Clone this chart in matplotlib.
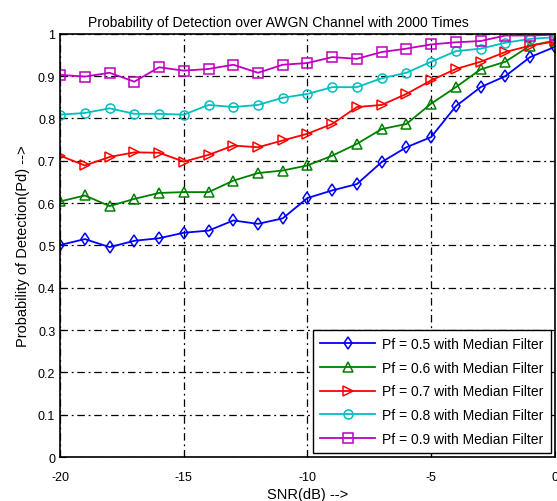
import matplotlib
matplotlib.use("Agg")
import matplotlib.pyplot as plt
import numpy as np

plt.rcParams['font.family'] = ['Liberation Sans', 'DejaVu Sans']
plt.rcParams['axes.unicode_minus'] = False

snr = list(range(-20, 1))
pd_05 = [0.501, 0.515, 0.496, 0.511, 0.517, 0.530, 0.535, 0.559, 0.551, 0.564, 0.612,
         0.630, 0.645, 0.697, 0.732, 0.756, 0.829, 0.874, 0.900, 0.945, 0.969]
pd_06 = [0.604, 0.618, 0.593, 0.610, 0.624, 0.626, 0.626, 0.653, 0.671, 0.677, 0.689,
         0.712, 0.740, 0.775, 0.787, 0.835, 0.874, 0.916, 0.934, 0.972, 0.984]
pd_07 = [0.712, 0.689, 0.709, 0.720, 0.719, 0.698, 0.714, 0.736, 0.732, 0.748, 0.764,
         0.787, 0.827, 0.832, 0.858, 0.890, 0.917, 0.934, 0.957, 0.972, 0.982]
pd_08 = [0.809, 0.813, 0.824, 0.811, 0.811, 0.809, 0.832, 0.827, 0.832, 0.849, 0.858,
         0.874, 0.874, 0.895, 0.908, 0.934, 0.959, 0.965, 0.979, 0.988, 0.992]
pd_09 = [0.903, 0.899, 0.908, 0.887, 0.921, 0.913, 0.917, 0.927, 0.908, 0.927, 0.931,
         0.945, 0.941, 0.957, 0.965, 0.975, 0.980, 0.983, 0.996, 0.996, 0.998]
labels = ['Pf = 0.5 with Median Filter', 'Pf = 0.6 with Median Filter',
          'Pf = 0.7 with Median Filter', 'Pf = 0.8 with Median Filter',
          'Pf = 0.9 with Median Filter']
series = [pd_05, pd_06, pd_07, pd_08, pd_09]
colors = ['#0000ff', '#008000', '#ff0000', '#00bfbf', '#bf00bf']
markers = ['d', '^', '>', 'o', 's']

fig = plt.figure(figsize=(5.57, 5.02), dpi=100)
ax = fig.add_axes([0.108, 0.0876, 0.888, 0.843])
for y, c, m, lab in zip(series, colors, markers, labels):
    ax.plot(snr, y, color=c, marker=m, markerfacecolor='none', markeredgecolor=c,
            markersize=6.5, linewidth=1.3, markeredgewidth=1.1, label=lab)

ax.set_xlim(-20, 0)
ax.set_ylim(0, 1)
ax.set_xticks([-20, -15, -10, -5, 0])
ax.set_yticks([0, 0.1, 0.2, 0.3, 0.4, 0.5, 0.6, 0.7, 0.8, 0.9, 1])
ax.set_yticklabels(['0', '0.1', '0.2', '0.3', '0.4', '0.5', '0.6', '0.7', '0.8', '0.9', '1'])
ax.tick_params(direction='in', labelsize=9, length=4)
ax.tick_params(axis='x', pad=10)
ax.grid(True, color='black', linestyle=(0, (6, 3, 1.5, 3)), linewidth=0.9)
for s in ax.spines.values():
    s.set_linewidth(1.2)
ax.set_title('Probability of Detection over AWGN Channel with 2000 Times', fontsize=10,
             pad=6, x=0.442)
ax.set_xlabel('SNR(dB) -->', fontsize=10.5, labelpad=3)
ax.set_ylabel('Probability of Detection(Pd) -->', fontsize=10.5, labelpad=6)
leg = ax.legend(loc='lower right', fontsize=10, fancybox=False, framealpha=1,
                edgecolor='black', borderaxespad=0.3, handlelength=4.0, labelspacing=0.7,
                handletextpad=0.5, borderpad=0.5)
leg.get_frame().set_linewidth(1.0)
fig.savefig('out.png', dpi=100)
